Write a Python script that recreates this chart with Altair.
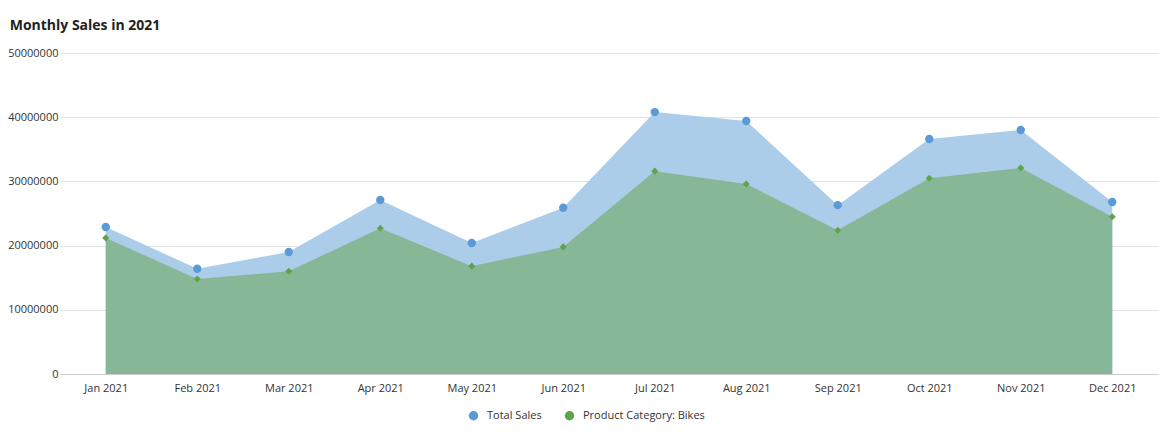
import altair as alt
import pandas as pd

months = ["Jan 2021", "Feb 2021", "Mar 2021", "Apr 2021", "May 2021", "Jun 2021",
          "Jul 2021", "Aug 2021", "Sep 2021", "Oct 2021", "Nov 2021", "Dec 2021"]
total_sales = [22900000, 16400000, 19000000, 27100000, 20400000, 25900000,
               40800000, 39400000, 26300000, 36600000, 38000000, 26800000]
bikes_sales = [21200000, 14800000, 16000000, 22700000, 16800000, 19800000,
               31600000, 29600000, 22400000, 30500000, 32100000, 24500000]
series_names = ["Total Sales", "Product Category: Bikes"]
y_ticks = [0, 10000000, 20000000, 30000000, 40000000, 50000000]

rows = []
for m, t, b in zip(months, total_sales, bikes_sales):
    rows.append({"month": m, "series": series_names[0], "value": t})
    rows.append({"month": m, "series": series_names[1], "value": b})
df = pd.DataFrame(rows)

FONT = "Open Sans"

x_enc = alt.X("month:O", sort=months, title=None,
              scale=alt.Scale(type="point", padding=0.5),
              axis=alt.Axis(labelAngle=0, ticks=False, domain=True, domainColor="#cccccc",
                            labelPadding=8, labelFontSize=11, labelColor="#333333",
                            labelFont=FONT, grid=False))
y_enc = alt.Y("value:Q", title=None,
              scale=alt.Scale(domain=[0, 50000000], nice=False, zero=True),
              axis=alt.Axis(values=y_ticks, format="d", ticks=False, domain=False,
                            labelPadding=2, labelFontSize=11, labelColor="#333333",
                            labelFont=FONT, grid=True, gridColor="#e2e2e2"))

base = alt.Chart(df)

area_total = base.transform_filter(alt.datum.series == series_names[0]).mark_area(
    color="#abcde9", opacity=1, interpolate="linear"
).encode(x=x_enc, y=y_enc)

area_bikes = base.transform_filter(alt.datum.series == series_names[1]).mark_area(
    color="#86b797", opacity=1, interpolate="linear"
).encode(x=x_enc, y=y_enc)

color_scale = alt.Scale(domain=series_names, range=["#5b9bd5", "#5fa34c"])

pts_total = base.transform_filter(alt.datum.series == series_names[0]).mark_point(
    filled=True, opacity=1, size=70, shape="circle"
).encode(
    x=x_enc, y=y_enc,
    color=alt.Color("series:N", scale=color_scale,
                    legend=alt.Legend(title=None, orient="none", direction="horizontal",
                                      legendX=408, legendY=357,
                                      symbolType="circle", symbolSize=90, labelFont=FONT,
                                      labelFontSize=11, labelColor="#333333", columnPadding=22,
                                      symbolOpacity=1, labelOffset=8))
)

pts_bikes = base.transform_filter(alt.datum.series == series_names[1]).mark_point(
    filled=True, opacity=1, size=50, shape="diamond"
).encode(
    x=x_enc, y=y_enc,
    color=alt.Color("series:N", scale=color_scale)
)

chart = alt.layer(area_total, area_bikes, pts_total, pts_bikes).properties(
    width=1098, height=321,
    background="white",
    title=alt.TitleParams("Monthly Sales in 2021", anchor="start", font=FONT, fontSize=14,
                          fontWeight="bold", color="#222222", offset=14, dx=2),
    autosize=alt.AutoSizeParams(type="none"),
    padding={"left": 60, "top": 53, "right": 1, "bottom": 62},
).configure_view(strokeWidth=0, stroke="transparent")

chart.save("out.html", embed_options={"renderer": "svg", "actions": False})
